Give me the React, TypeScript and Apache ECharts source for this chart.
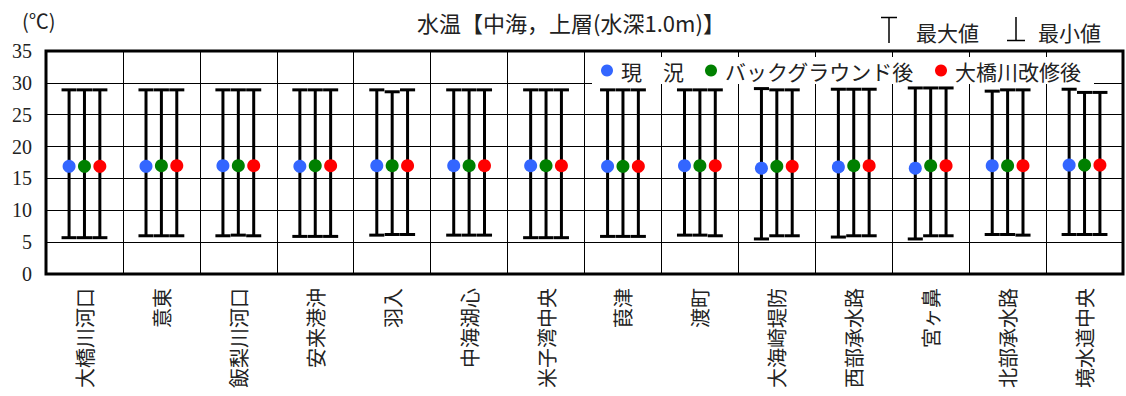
import React, { useEffect, useRef } from "react";
import * as echarts from "echarts";

const categories = [
  "大橋川河口", "意東", "飯梨川河口", "安来港沖", "羽入", "中海湖心", "米子湾中央",
  "葭津", "渡町", "大海崎堤防", "西部承水路", "宮ヶ鼻", "北部承水路", "境水道中央",
];

const seriesNames = ["現　況", "バックグラウンド後", "大橋川改修後"];
const seriesColors = ["#3366FF", "#008000", "#FF0000"];

// 現況
const meanNow = [16.9, 16.9, 17.0, 16.9, 17.0, 17.0, 17.0, 16.9, 17.0, 16.6, 16.8, 16.6, 17.0, 17.1];
const maxNow = [28.9, 28.9, 28.9, 28.9, 28.9, 28.9, 28.9, 28.9, 28.9, 29.1, 29.0, 29.2, 28.7, 29.0];
const minNow = [5.7, 6.0, 6.0, 5.9, 6.1, 6.1, 5.7, 5.9, 6.1, 5.5, 5.8, 5.5, 6.2, 6.2];

// バックグラウンド後
const meanBg = [16.9, 17.0, 17.0, 17.0, 17.0, 17.0, 17.0, 16.9, 17.0, 16.9, 17.0, 17.0, 17.0, 17.1];
const maxBg = [28.9, 28.9, 28.9, 28.9, 28.6, 28.9, 28.9, 28.9, 28.9, 28.9, 29.0, 29.2, 28.9, 28.5];
const minBg = [5.7, 6.0, 6.1, 5.9, 6.2, 6.1, 5.7, 5.9, 6.1, 6.0, 6.0, 6.0, 6.2, 6.2];

// 大橋川改修後
const meanAfter = [16.9, 17.0, 17.0, 17.0, 17.0, 17.0, 17.0, 16.9, 17.0, 16.9, 17.0, 17.0, 17.0, 17.1];
const maxAfter = [28.9, 28.9, 28.9, 28.9, 28.9, 28.9, 28.9, 28.9, 28.9, 28.9, 29.0, 29.2, 28.9, 28.5];
const minAfter = [5.7, 6.0, 6.0, 5.9, 6.2, 6.1, 5.7, 5.9, 6.0, 6.0, 6.0, 6.0, 6.1, 6.2];

const yTicks = { min: 0, max: 35, interval: 5 };

const CJK = "'Noto Sans CJK JP', sans-serif";
const SERIF = "'Liberation Serif', 'DejaVu Serif', serif";

const seriesData = [
  [meanNow, maxNow, minNow],
  [meanBg, maxBg, minBg],
  [meanAfter, maxAfter, minAfter],
];
const offsets = [-0.2, 0, 0.2];

function makeRender(offset: number, color: string) {
  return (params: any, api: any) => {
    const idx = api.value(0);
    const c = api.coord([idx, api.value(1)]);
    const top = api.coord([idx, api.value(2)]);
    const bot = api.coord([idx, api.value(3)]);
    const bw = api.size([1, 0])[0];
    const x = c[0] + offset * bw;
    const hw = bw * 0.098;
    const ls = { stroke: "#000", lineWidth: 3 };
    return {
      type: "group",
      children: [
        { type: "line", shape: { x1: x, y1: top[1], x2: x, y2: bot[1] }, style: ls },
        { type: "line", shape: { x1: x - hw, y1: top[1], x2: x + hw, y2: top[1] }, style: ls },
        { type: "line", shape: { x1: x - hw, y1: bot[1], x2: x + hw, y2: bot[1] }, style: ls },
        { type: "circle", shape: { cx: x, cy: c[1], r: 6.5 }, style: { fill: color } },
      ],
    };
  };
}

export default function App() {
  const ref = useRef<HTMLDivElement>(null);
  useEffect(() => {
    if (!ref.current) return;
    const chart = echarts.init(ref.current, null, { renderer: "svg" });
    const series = seriesNames.map((name, s) => ({
      name,
      type: "custom",
      itemStyle: { color: seriesColors[s] },
      renderItem: makeRender(offsets[s], seriesColors[s]),
      encode: { x: 0, y: [1, 2, 3] },
      data: categories.map((_, i) => [i, seriesData[s][0][i], seriesData[s][1][i], seriesData[s][2][i]]),
      z: 2,
    }));
    chart.setOption({
      animation: false,
      grid: {
        left: 46, right: 3, top: 51, bottom: 122,
        show: true, borderColor: "#000", borderWidth: 3, backgroundColor: "transparent",
      },
      legend: {
        data: seriesNames.map((n) => ({ name: n, icon: "circle" })),
        left: 592, top: 57,
        itemWidth: 18, itemHeight: 12, itemGap: 21,
        padding: [3, 13, 3, 9],
        backgroundColor: "#fff",
        selectedMode: false,
        textStyle: { fontSize: 21, color: "#222", fontFamily: CJK },
        z: 5,
      },
      xAxis: {
        type: "category",
        data: categories,
        axisLine: { show: false },
        axisTick: { show: false },
        axisLabel: { rotate: 90, interval: 0, fontSize: 20, margin: 14, color: "#222", fontFamily: CJK },
        splitLine: { show: true, interval: 0, lineStyle: { color: "#000", width: 1 } },
      },
      yAxis: {
        type: "value",
        min: yTicks.min, max: yTicks.max, interval: yTicks.interval,
        axisLine: { show: false },
        axisTick: { show: false },
        axisLabel: { fontSize: 20, margin: 14, color: "#222", fontFamily: SERIF },
        splitLine: { show: true, lineStyle: { color: "#000", width: 1 } },
      },
      graphic: [
        { type: "text", x: 22, y: 20, style: { text: "(℃)", font: `20px ${CJK}`, fill: "#222", textVerticalAlign: "middle" } },
        { type: "text", x: 571, y: 22, style: { text: "水温【中海，上層(水深1.0m)】", font: `22px ${CJK}`, fill: "#222", textAlign: "center", textVerticalAlign: "middle" } },
        { type: "line", shape: { x1: 889, y1: 17, x2: 889, y2: 43 }, style: { stroke: "#000", lineWidth: 1.5 } },
        { type: "line", shape: { x1: 881, y1: 17.5, x2: 897, y2: 17.5 }, style: { stroke: "#000", lineWidth: 1.5 } },
        { type: "text", x: 916, y: 32, style: { text: "最大値", font: `21px ${CJK}`, fill: "#222", textVerticalAlign: "middle" } },
        { type: "line", shape: { x1: 1016, y1: 17, x2: 1016, y2: 41 }, style: { stroke: "#000", lineWidth: 1.5 } },
        { type: "line", shape: { x1: 1007, y1: 40.5, x2: 1025, y2: 40.5 }, style: { stroke: "#000", lineWidth: 1.5 } },
        { type: "text", x: 1038, y: 32, style: { text: "最小値", font: `21px ${CJK}`, fill: "#222", textVerticalAlign: "middle" } },
      ],
      series,
    });
    return () => chart.dispose();
  }, []);
  return (
    <div
      ref={ref}
      style={{ position: "fixed", left: 0, top: 0, width: 1126, height: 396, background: "#fff" }}
    />
  );
}
